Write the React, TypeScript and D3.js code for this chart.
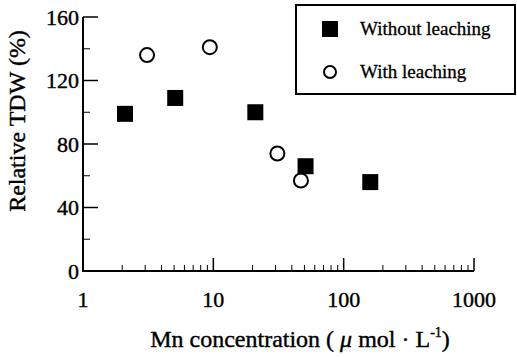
import React from 'react';
import * as d3 from 'd3';

// Relative TDW vs Mn concentration
const withoutConc = [2.1, 5.1, 21, 51, 160];
const withoutTdw = [99, 109, 100, 66, 56];
const withConc = [3.1, 9.4, 31, 47];
const withTdw = [136, 141, 74, 57];
const yTicks = [0, 40, 80, 120, 160];
const yMinor = [20, 60, 100, 140];
const xTicks = [1, 10, 100, 1000];

const W = 517;
const H = 357;
const left = 83;
const right = 474;
const top = 17;
const bottom = 271;
const font = '"Liberation Serif", "Times New Roman", serif';

export default function App() {
  const x = d3.scaleLog().domain([1, 1000]).range([left, right]);
  const y = d3.scaleLinear().domain([0, 160]).range([bottom, top]);

  // minor log ticks 2..9 in each decade
  const xMinor = x.ticks().filter(t => !xTicks.includes(t));

  const sq = 16;

  return (
    <svg width={W} height={H} style={{ position: 'absolute', left: 0, top: 0, background: '#fff' }}
      fontFamily={font}>
      {/* axes */}
      <path d={`M${left},${top}V${bottom}H${right}`} fill="none" stroke="#000" strokeWidth={2} />
      <g stroke="#000" strokeWidth={0.4}>
        {yTicks.map(t => (
          <g key={'y' + t}>
            <line x1={left} x2={left + 15} y1={y(t)} y2={y(t)} strokeWidth={1.5} />
            <text x={left - 4} y={y(t)} dy="0.35em" textAnchor="end" fontSize={22}>{t}</text>
          </g>
        ))}
        {yMinor.map(t => (
          <line key={'ym' + t} x1={left} x2={left + 7} y1={y(t)} y2={y(t)} strokeWidth={1} />
        ))}
        {xTicks.map(t => (
          <g key={'x' + t}>
            {t > 1 && <line x1={x(t)} x2={x(t)} y1={bottom} y2={bottom - 13} strokeWidth={1.5} />}
            <text x={x(t)} y={bottom + 36} textAnchor="middle" fontSize={22}>{t}</text>
          </g>
        ))}
        {xMinor.map((t, i) => (
          <line key={'xm' + i} x1={x(t)} x2={x(t)} y1={bottom} y2={bottom - 6} strokeWidth={1} />
        ))}

        {/* axis titles */}
        <text transform={`translate(25,121) rotate(-90)`} textAnchor="middle" fontSize={24}>Relative TDW (%)</text>
        <text x={300} y={347} textAnchor="middle" fontSize={24}>
          Mn concentration ( <tspan fontStyle="italic">μ</tspan> mol · L<tspan dy={-10} fontSize={14}>-1</tspan><tspan dy={10}>)</tspan>
        </text>
      </g>

      {/* data */}
      {withoutConc.map((c, i) => (
        <rect key={'s' + i} x={x(c) - sq / 2} y={y(withoutTdw[i]) - sq / 2} width={sq} height={sq} fill="#000" />
      ))}
      {withConc.map((c, i) => (
        <circle key={'c' + i} cx={x(c)} cy={y(withTdw[i])} r={7} fill="none" stroke="#000" strokeWidth={2} />
      ))}

      {/* legend */}
      <rect x={296} y={5} width={219} height={89} fill="#fff" stroke="#000" strokeWidth={2} />
      <rect x={330 - 8} y={29 - 8} width={16} height={16} fill="#000" />
      <circle cx={330} cy={72} r={6} fill="none" stroke="#000" strokeWidth={2} />
      <g stroke="#000" strokeWidth={0.3}>
        <text x={360} y={35} fontSize={19}>Without leaching</text>
        <text x={360} y={78} fontSize={19}>With leaching</text>
      </g>
    </svg>
  );
}
